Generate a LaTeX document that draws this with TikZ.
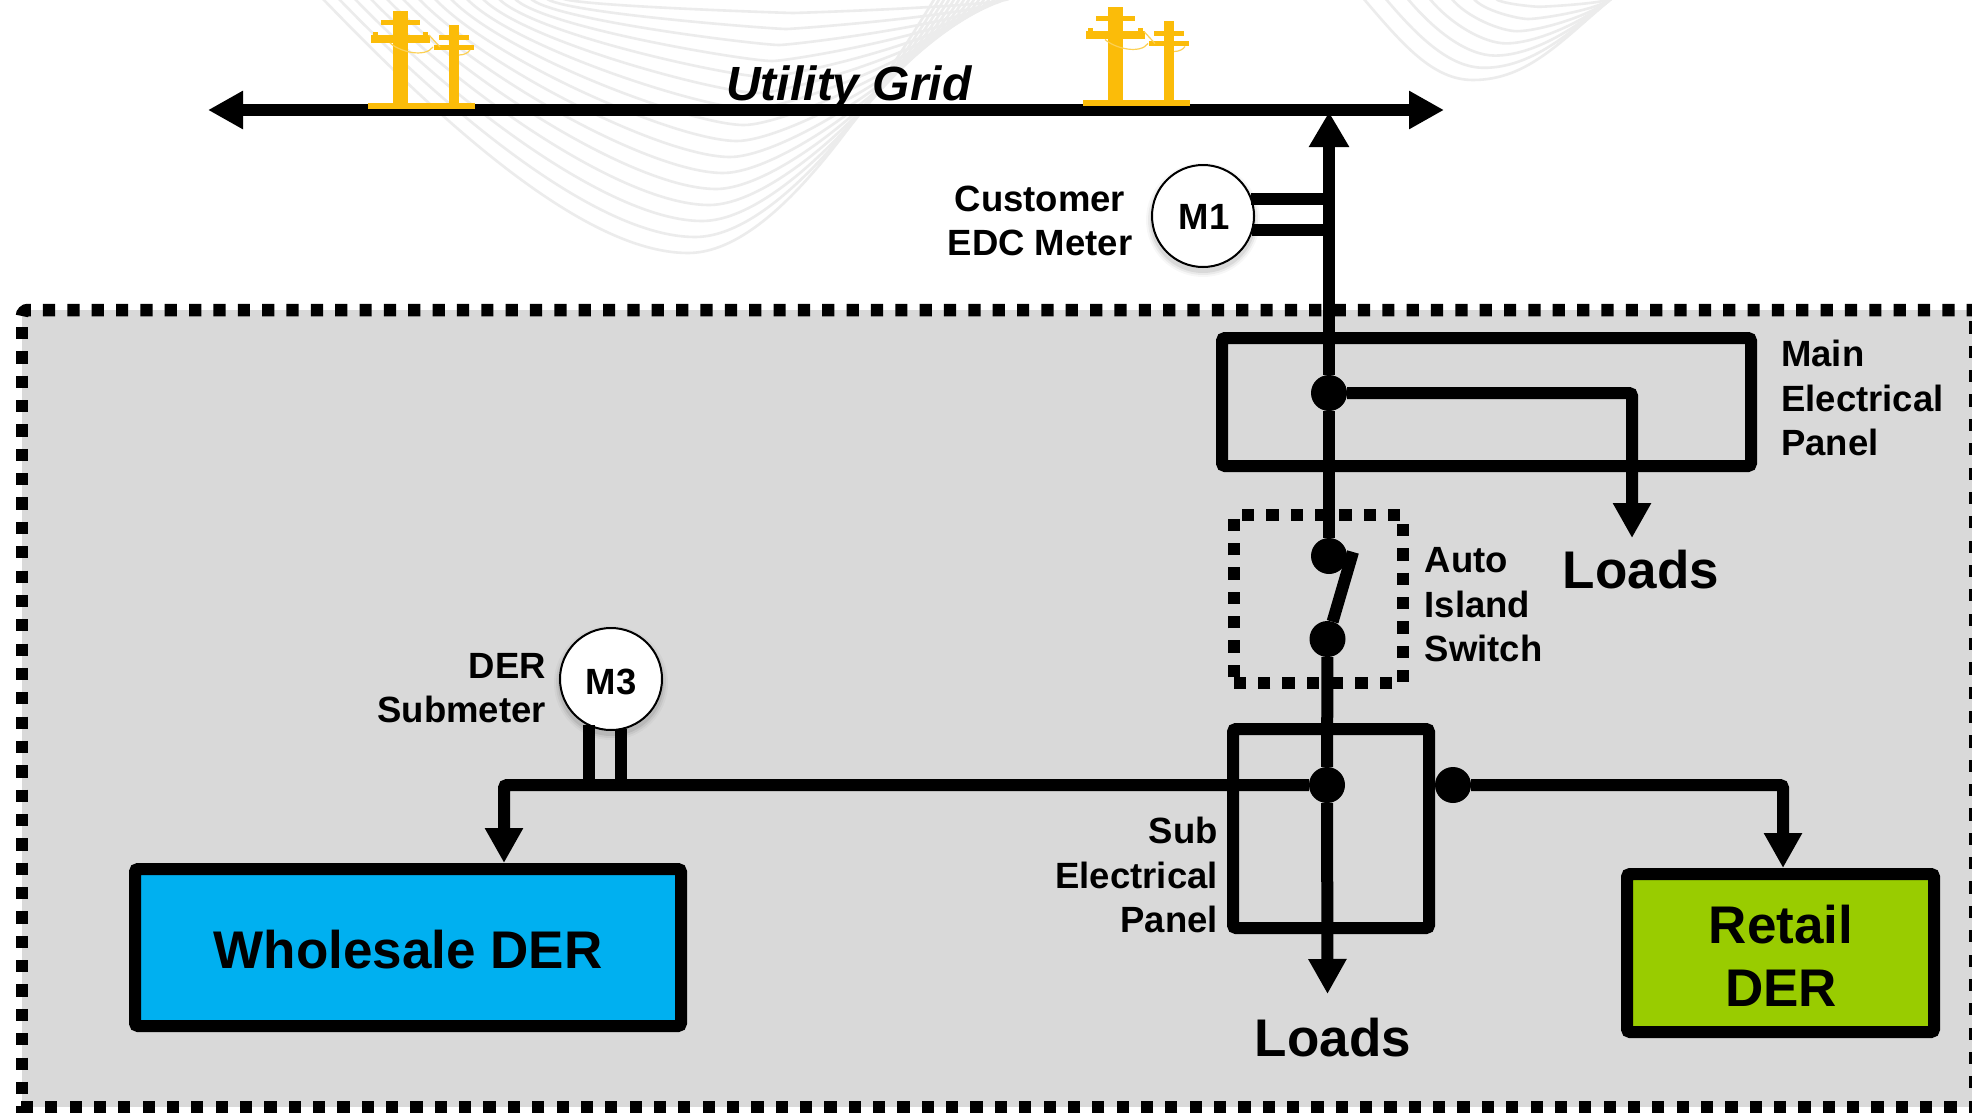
\documentclass[tikz,border=0pt]{standalone}
\usepackage{fontspec}
\setmainfont{Liberation Sans}
\usetikzlibrary{arrows.meta,calc}
\definecolor{regiongray}{HTML}{D9D9D9}
\definecolor{wavegray}{HTML}{ECECEC}
\definecolor{poleyellow}{HTML}{FBBC09}
\definecolor{wholeblue}{HTML}{00B0F0}
\definecolor{retailgreen}{HTML}{99CC00}
\tikzset{
  wire/.style={line width=12pt,black,rounded corners=3pt},
  wirearrow/.style={wire,-{Triangle[length=35pt,width=36pt]}},
  panelbox/.style={draw=black,line width=12pt,rounded corners=3pt,inner sep=0pt,outer sep=0pt},
  dotnode/.style={circle,fill=black,minimum size=36pt,inner sep=0pt,outer sep=0pt},
  meter/.style={circle,draw=black,fill=white,line width=2pt,minimum size=102pt,inner sep=0pt,outer sep=0pt},
  smalltext/.style={inner sep=0pt,font=\fontsize{36.5}{44.5}\selectfont\bfseries},
  bigtext/.style={inner sep=0pt,font=\fontsize{53}{63}\selectfont\bfseries},
  dotted border/.style={line width=12.5pt,black,dash pattern=on 12.2pt off 12.15pt},
  wave/.style={wavegray,line width=2.6pt},
  polepair/.pic={
    \fill[poleyellow] (368,103) rectangle (475,109);
    \fill[poleyellow] (393,11) rectangle (408,103);
    \fill[poleyellow] (381,20) rectangle (420,25);
    \fill[poleyellow] (371,35) rectangle (430,43);
    \fill[poleyellow] (373,32) rectangle (378,35);
    \fill[poleyellow] (423,32) rectangle (428,35);
    \fill[poleyellow] (449,25) rectangle (459,103);
    \fill[poleyellow] (439,35) rectangle (469,40);
    \fill[poleyellow] (434,45) rectangle (474,50);
    \draw[poleyellow!70,line width=1.2pt] (390,43) .. controls (400,52) and (425,58) .. (433,47);
    \draw[poleyellow!70,line width=1.2pt] (429,35) -- (440,47);
    \draw[poleyellow!70,line width=1.2pt] (459,55) .. controls (464,55) and (468,53) .. (470,50);
  }
}
\begin{document}
\begin{tikzpicture}[x=1pt,y=-1pt]
\useasboundingbox (0,0) rectangle (1972,1116);
\fill[white] (0,0) rectangle (1972,1116);
% background waves
\begin{scope}
\clip (0,0) rectangle (1972,1116);
\foreach \i in {0,...,15}{
  \pgfmathsetmacro{\by}{253-16*\i}
  \pgfmathsetmacro{\s}{\by/253}
  \pgfmathsetmacro{\lx}{322+16*\i}
  \pgfmathsetmacro{\bx}{688+7*\i}
  \pgfmathsetmacro{\rx}{935+5*\i}
  \draw[wave] (\lx,-2) .. controls ({\lx+108*\s},{110*\s}) and ({\bx-108*\s},\by) .. (\bx,\by)
     .. controls ({\bx+82*\s},\by) and ({\rx-75*\s},{120*\s}) .. (\rx,-2);
}
\foreach \i in {0,...,6}{
  \pgfmathsetmacro{\by}{80-12.2*\i}
  \pgfmathsetmacro{\s}{\by/80}
  \pgfmathsetmacro{\lx}{1363+22*\i}
  \pgfmathsetmacro{\bx}{1473+11*\i}
  \draw[wave] (\lx,-2) .. controls ({\lx+40*\s},{45*\s}) and ({\bx-40*\s},\by) .. (\bx,\by)
     .. controls ({\bx+55*\s},\by) and ({1612-50*\s},{40*\s}) .. (1612,-2);
}
\end{scope}
% grey region with dotted border
\fill[regiongray] (22,310) rectangle (1972,1107);
\draw[dotted border] (22,316) .. controls (22,312.7) and (24.7,310) .. (28,310) -- (1985,310);
\draw[dotted border] (22,327) -- (22,1113);
\draw[dotted border] (1981,1107) -- (10,1107);
\draw[dotted border] (1975,321.4) -- (1975,1116);
% switch dotted box
\draw[dotted border] (1242,515) -- (1400,515);
\draw[dotted border] (1403,524) -- (1403,682);
\draw[dotted border] (1392,683) -- (1233,683);
\draw[dotted border] (1234,677) -- (1234,518);
% named points
\coordinate (gL) at (208,110);
\coordinate (gR) at (1444,110);
\coordinate (gridTip) at (1329,112);
\coordinate (bendW) at (504,785);
\coordinate (tipW) at (504,863);
\coordinate (tipR) at (1783,868);
\coordinate (tipM) at (1632,538);
\coordinate (tipS) at (1327.5,994);
\coordinate (blade) at (1353,552);
% panels
\node[panelbox,minimum width=529pt,minimum height=128pt] (mainpanel) at (1486.5,402) {};
\node[panelbox,minimum width=196pt,minimum height=199pt] (subpanel) at (1331,828.5) {};
% dots
\node[dotnode] (jMain) at (1329,393) {};
\node[dotnode] (swUp) at (1329,556) {};
\node[dotnode] (swLo) at (1327.5,639) {};
\node[dotnode] (jSub) at (1327,785) {};
\node[dotnode] (jRetail) at (1453,785) {};
% boxes
\node[panelbox,fill=wholeblue,minimum width=546pt,minimum height=157pt] (whole) at (408,947.5) {};
\node[panelbox,fill=retailgreen,minimum width=307pt,minimum height=158pt] (retail) at (1780.5,953) {};
% connectors
\draw[wire,{Triangle[length=35pt,width=38pt]}-] (gridTip) -- (jMain);
\draw[wire] (jMain) -- (swUp);
\draw[wire,line cap=butt] (swLo) -- (blade);
\draw[wire] (swLo) -- (jSub);
\draw[wirearrow] (jSub) -- (tipS);
\draw[wirearrow] (jMain) -| (tipM);
\draw[wirearrow] (jSub) -- (bendW) -- (tipW);
\draw[wirearrow] (jRetail) -| (tipR);
\draw[wire,{Triangle[length=35pt,width=36pt]}-{Triangle[length=35pt,width=36pt]}] (gL) -- (gR);
% poles
\pic at (0,0) {polepair};
\pic at (715,-3.5) {polepair};
% meters
\foreach \px/\py in {1203/216,611/679}{
  \foreach \r/\o in {57/.03,55/.05,53/.07}{
    \fill[black,opacity=\o] (\px,\py+4) circle[radius=\r];
  }
}
\node[meter] (m1) at (1203,216) {};
\node[meter] (m3) at (611,679) {};
\node[font=\fontsize{36.5}{44}\selectfont\bfseries,inner sep=0pt] (m1t) at (1204,217) {M1};
\node[font=\fontsize{36.5}{44}\selectfont\bfseries,inner sep=0pt] (m3t) at (611,682) {M3};
\draw[wire] (m1.20) -- (m1.20 -| gridTip);
\draw[wire] (m1.-16) -- (m1.-16 -| gridTip);
\draw[wire] (m3.-115) -- (m3.-115 |- bendW);
\draw[wire] (m3.-79) -- (m3.-79 |- bendW);
% text
\node[inner sep=0pt,anchor=base,font=\fontsize{48}{48}\selectfont\bfseries\itshape] (gridtext) at (849,100) {Utility Grid};
\node[smalltext,align=center] (m1label) at (1040,221) {Customer\\EDC Meter};
\node[smalltext,align=right,anchor=east] (m3label) at (546,688) {DER\\Submeter};
\node[smalltext,align=left,anchor=west] (mainlabel) at (1781,398) {Main\\Electrical\\Panel};
\node[smalltext,align=left,anchor=west] (swlabel) at (1424.5,605) {Auto\\Island\\Switch};
\node[smalltext,align=right,anchor=east] (sublabel) at (1218,875) {Sub\\Electrical\\Panel};
\node[bigtext] (wholetext) at (408,950) {Wholesale DER};
\node[bigtext,align=center] (retailtext) at (1781,956) {Retail\\DER};
\node[bigtext] (loads1) at (1641,570) {Loads};
\node[bigtext] (loads2) at (1333,1038) {Loads};
\end{tikzpicture}
\end{document}
